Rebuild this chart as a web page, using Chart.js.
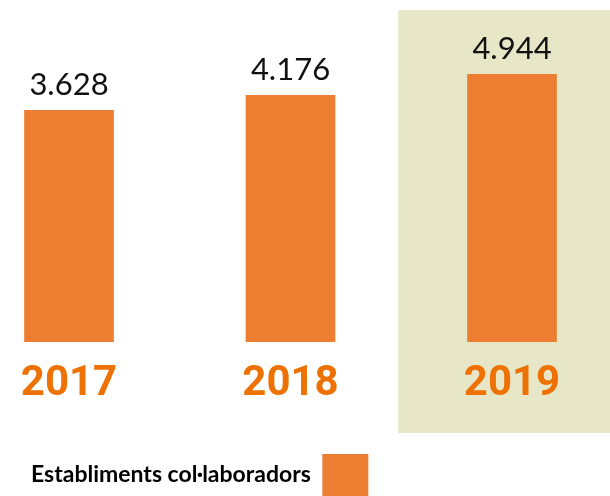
<!DOCTYPE html>
<html>
<head>
<meta charset="utf-8">
<script src="https://cdn.jsdelivr.net/npm/chart.js@4/dist/chart.umd.min.js"></script>
<style>
  html, body { margin: 0; padding: 0; background: #fff; overflow: hidden; }
  #wrap { position: relative; width: 610px; height: 506px; }
</style>
</head>
<body>
<div id="wrap"><canvas id="chartEstabliments"></canvas></div>
<script>
// Dades
const anys = ['2017', '2018', '2019'];
const establiments = [3628, 4176, 4944];
const etiqueta = 'Establiments col·laboradors';

// l'eix no comença a zero a l'original
const Y_MIN = -4850;
const Y_MAX = 7300;

const TARONJA = '#ED7D31';
const TARONJA_ANY = '#EE7203';
const FONS_2019 = '#E7E6C7';

const fmt = v => String(v).replace(/\B(?=(\d{3})+(?!\d))/g, '.');

// fons destacat per l'últim any
const fonsDestacat = {
  id: 'fonsDestacat',
  beforeDraw(chart) {
    const { ctx, chartArea, scales: { x } } = chart;
    const left = x.getPixelForValue(anys.length - 1.5) - 3;
    ctx.save();
    ctx.fillStyle = FONS_2019;
    ctx.fillRect(left, chartArea.top, chart.width - left, chartArea.bottom + 91 - chartArea.top);
    ctx.restore();
  }
};

// valors sobre les barres
const valorsBarres = {
  id: 'valorsBarres',
  afterDatasetsDraw(chart) {
    const { ctx } = chart;
    const meta = chart.getDatasetMeta(0);
    ctx.save();
    ctx.font = '31px Lato';
    ctx.fillStyle = '#111';
    ctx.textAlign = 'center';
    ctx.textBaseline = 'alphabetic';
    meta.data.forEach((bar, i) => {
      ctx.fillText(fmt(establiments[i]), bar.x, bar.y - 15);
    });
    ctx.restore();
  }
};

new Chart(document.getElementById('chartEstabliments'), {
  type: 'bar',
  data: {
    datasets: [{
      label: etiqueta,
      data: establiments.map((v, i) => ({ x: i, y: v })),
      backgroundColor: TARONJA,
      base: Y_MIN,
      barThickness: 89
    }]
  },
  options: {
    responsive: true,
    maintainAspectRatio: false,
    animation: false,
    layout: { padding: { top: 10, left: 0, right: 0, bottom: 0 } },
    scales: {
      x: {
        type: 'linear',
        min: -69 / 221.5,
        max: (610 - 69) / 221.5,
        offset: false,
        grid: { display: false, drawTicks: false },
        border: { display: false },
        afterBuildTicks: s => { s.ticks = anys.map((_, i) => ({ value: i })); },
        afterFit: s => { s.height = 81; },
        ticks: {
          autoSkip: false,
          maxRotation: 0,
          padding: 17,
          color: TARONJA_ANY,
          font: { family: 'Roboto', weight: 'bold', size: 42 },
          callback: v => anys[v] ?? ''
        }
      },
      y: { display: false, min: Y_MIN, max: Y_MAX }
    },
    plugins: {
      legend: {
        position: 'bottom',
        align: 'end',
        rtl: true,
        textDirection: 'ltr',
        labels: {
          boxWidth: 46,
          boxHeight: 42,
          padding: 31,
          color: '#000',
          font: { family: 'Lato', weight: 'bold', size: 23 }
        }
      },
      tooltip: { enabled: false }
    }
  },
  plugins: [fonsDestacat, valorsBarres]
});
</script>
</body>
</html>
